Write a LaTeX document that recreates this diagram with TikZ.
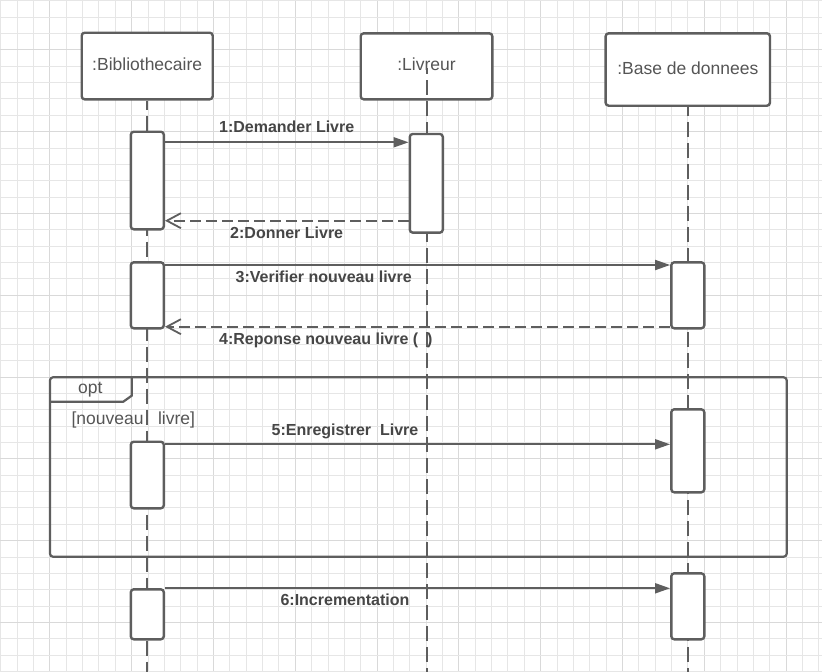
\documentclass[tikz,border=0pt]{standalone}
\usepackage{fontspec}
\setmainfont{Liberation Sans}
\usetikzlibrary{arrows.meta,calc}
\definecolor{gridc}{HTML}{E6E6E6}
\definecolor{gridm}{HTML}{D9D9D9}
\definecolor{strk}{HTML}{5E5E5E}
\definecolor{txt}{HTML}{555555}
\definecolor{btxt}{HTML}{464646}
\begin{document}
\begin{tikzpicture}[x=1pt,y=-1pt,
  titlebox/.style={draw=strk, line width=2.4pt, rounded corners=3pt, fill=white, text=txt,
    font=\fontsize{17.5}{20}\selectfont, text depth=3.5pt, inner sep=0pt},
  act/.style={draw=strk, line width=2.4pt, rounded corners=3pt, fill=white, minimum width=33pt, inner sep=0pt},
  life/.style={draw=strk, line width=2pt, dash pattern=on 15pt off 6pt},
  msg/.style={draw=strk, line width=1.8pt, -{Triangle[length=15pt,width=10pt]}},
  ret/.style={draw=strk, line width=1.8pt, dash pattern=on 11pt off 5pt, -{Straight Barb[length=14pt,width=15pt]}},
  lbl/.style={font=\bfseries\fontsize{16}{19}\selectfont, text=btxt, inner sep=0pt, anchor=base},
  plain/.style={font=\fontsize{17.5}{20}\selectfont, text=txt, inner sep=0pt, anchor=base},
  framec/.style={draw=strk, line width=2.2pt}
]
\useasboundingbox (0,0) rectangle (822,672);
\fill[white] (0,0) rectangle (822,672);
% grid
\foreach \i in {0,...,50} {
  \pgfmathtruncatemacro{\m}{mod(\i,5)}
  \ifnum\m=3 \def\gc{gridm}\else\def\gc{gridc}\fi
  \draw[\gc, line width=1pt] ({0.8+16.36*\i},0) -- ({0.8+16.36*\i},672);
}
\foreach \j in {0,...,41} {
  \pgfmathtruncatemacro{\m}{mod(\j,5)}
  \ifnum\m=3 \def\gc{gridm}\else\def\gc{gridc}\fi
  \draw[\gc, line width=1pt] (0,{0.8+16.36*\j}) -- (822,{0.8+16.36*\j});
}
% header boxes
\node[titlebox, minimum width=131pt, minimum height=66.6pt] (bib) at (147.2,66) {:Bibliothecaire};
\node[titlebox, minimum width=131.6pt, minimum height=66pt] (liv) at (426.5,66.3) {:Livreur};
\node[titlebox, minimum width=164.3pt, minimum height=72.4pt] (base) at (687.8,69.5) {:Base de donnees};
% lifelines
\coordinate (bot) at (0,672);
\draw[life, dash phase=6pt] (bib.south) -- (bib.south |- bot);
\draw[life, dash phase=9pt] ($(liv.center)+(0,1.7)$) -- (liv.center |- bot);
\draw[life, dash phase=6pt] (base.south) -- (base.south |- bot);
% opt frame
\node[framec, rounded corners=3pt, minimum width=736.7pt, minimum height=179.4pt, inner sep=0pt] (opt) at (418.35,467) {};
\coordinate (tabA) at (131.7,377.3);
\coordinate (tabB) at (131.7,395.7);
\coordinate (tabC) at (123.3,401.7);
\coordinate (tabD) at (50,401.7);
\draw[framec] (tabA) -- (tabB) -- (tabC) -- (tabD);
\node[plain] (optl) at (90.3,393.3) {opt};
\node[plain] (guard) at (133.3,424.3) {[nouveau\ \ \ livre]};
% activations
\node[act, minimum height=97.6pt] (a1) at (147.3,180.5) {};
\node[act, minimum height=98.7pt] (l1) at (426.3,183.3) {};
\node[act, minimum height=66pt] (a2) at (147.3,295.3) {};
\node[act, minimum height=66pt] (d1) at (687.8,295.3) {};
\node[act, minimum height=66.6pt] (a3) at (147.3,475) {};
\node[act, minimum height=83pt] (d2) at (687.8,450.8) {};
\node[act, minimum height=50pt] (a4) at (147.3,614.3) {};
\node[act, minimum height=66pt] (d3) at (687.8,606.3) {};
% message rows
\coordinate (m1) at (0,142.3);
\coordinate (m2) at (0,220.7);
\coordinate (m3) at (0,265);
\coordinate (m4) at (0,326.7);
\coordinate (m5) at (0,444.3);
\coordinate (m6) at (0,588.3);
\draw[msg] (a1.east |- m1) -- (l1.west |- m1);
\draw[ret] (l1.west |- m2) -- (a1.east |- m2);
\draw[msg] (a2.east |- m3) -- (d1.west |- m3);
\draw[ret] (d1.west |- m4) -- (a2.east |- m4);
\draw[msg] (a3.east |- m5) -- (d2.west |- m5);
\draw[msg] (a4.north east |- m6) -- (d3.west |- m6);
% labels
\node[lbl] (t1) at (286.7,132.7) {1:Demander Livre};
\node[lbl] (t2) at (286.7,238.3) {2:Donner Livre};
\node[lbl] (t3) at (323.7,282) {3:Verifier nouveau livre};
\node[lbl] (t4) at (325.8,344) {4:Reponse nouveau livre (\ \ )};
\node[lbl] (t5) at (345,435) {5:Enregistrer\ \ Livre};
\node[lbl] (t6) at (345,605) {6:Incrementation};
\end{tikzpicture}
\end{document}
